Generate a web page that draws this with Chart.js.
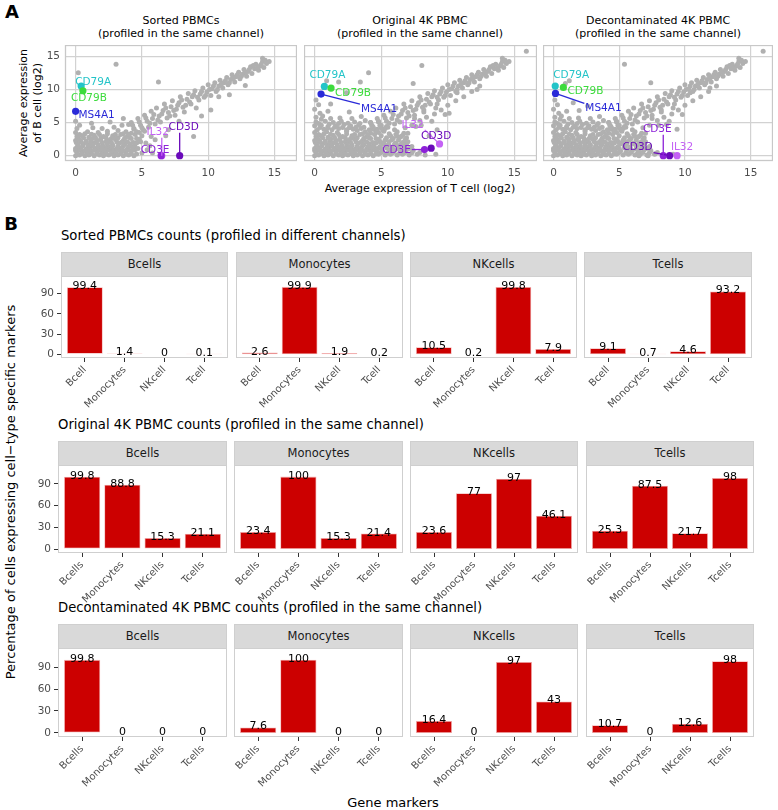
<!DOCTYPE html>
<html>
<head>
<meta charset="utf-8">
<script src="https://cdn.jsdelivr.net/npm/chart.js@4.4.1/dist/chart.umd.min.js"></script>
<style>
  body { margin: 0; background: #fff; font-family: "DejaVu Sans", sans-serif; }
  #fig { position: relative; width: 778px; height: 810px; overflow: hidden; }
  .txt { position: absolute; white-space: nowrap; color: #000; line-height: 1; }
  .strip { position: absolute; background: #d9d9d9; border: 1px solid #cfcfcf; box-sizing: border-box;
           text-align: center; font-size: 11.5px; color: #1a1a1a; }
  canvas { position: absolute; }
</style>
</head>
<body>
<div id="fig"></div>
<script>
/* ── Panel A data: grey gene clouds (log2 T cell, log2 B cell) ───────── */

// dense block near the origin, present in every panel
const coreBlock = [
  [0,0],[0.3,0.1],[0.7,0],[1.0,0.1],[1.4,0],[1.8,0.1],[2.1,0],[2.5,0.1],[2.9,0],[3.2,0.1],[3.6,0],[4.0,0.1],[4.4,0],
  [0.15,0.25],[0.5,0.3],[0.85,0.2],[1.2,0.3],[1.6,0.25],[1.95,0.3],[2.3,0.2],[2.7,0.3],[3.05,0.25],[3.4,0.3],[3.8,0.2],[4.2,0.3],[4.6,0.25],
  [0.1,0.5],[0.5,0.6],[0.9,0.4],[1.2,0.7],[1.6,0.5],[2.0,0.6],[2.3,0.4],[2.7,0.7],[3.0,0.5],[3.4,0.6],[3.8,0.5],[4.2,0.7],
  [0,0.8],[0.3,0.9],[0.7,0.8],[1.05,0.9],[1.4,0.85],[1.75,0.9],[2.1,0.8],[2.45,0.9],[2.85,0.85],[3.25,0.9],[3.6,0.8],[4.0,0.9],[4.45,0.85],
  [0,1.1],[0.4,1.2],[0.8,1.0],[1.1,1.3],[1.5,1.1],[1.9,1.2],[2.2,1.0],[2.6,1.3],[3.1,1.1],[3.5,1.2],[3.9,1.0],[4.3,1.3],[4.7,1.1],
  [0.15,1.4],[0.55,1.5],[0.95,1.4],[1.3,1.5],[1.7,1.45],[2.05,1.5],[2.4,1.4],[2.8,1.5],[3.2,1.45],[3.6,1.5],[4.0,1.4],[4.45,1.5],
  [0.2,1.7],[0.6,1.8],[1.0,1.6],[1.3,1.9],[1.7,1.7],[2.4,1.8],[2.8,1.6],[3.3,1.9],[3.7,1.7],[4.1,1.8],[4.6,1.9],[2.0,2.0],
  [0.05,2.0],[0.4,2.1],[0.8,2.0],[1.15,2.1],[1.5,2.0],[2.3,2.1],[2.7,2.0],[3.1,2.1],[3.5,2.05],[3.9,2.1],[4.35,2.0],[4.9,2.1],
  [0,2.3],[0.3,2.4],[0.8,2.2],[1.2,2.5],[1.6,2.3],[1.9,2.4],[2.5,2.3],[3.0,2.5],[3.6,2.3],[4.2,2.6],[4.8,2.5],
  [0.2,2.6],[0.6,2.7],[1.1,2.6],[1.5,2.7],[1.9,2.65],[2.3,2.7],[2.7,2.6],[3.2,2.7],[3.7,2.65],[4.1,2.7],[4.6,2.6],
  [0.1,2.9],[0.5,3.0],[1.0,2.8],[1.4,3.1],[2.1,2.9],[2.8,3.0],[3.4,3.2],[3.9,2.9],[4.5,3.2],[5.0,3.0],
  [0.3,3.2],[0.7,3.3],[1.2,3.25],[1.8,3.2],[2.4,3.3],[3.0,3.2],[3.6,3.3],[4.2,3.4],[4.8,3.5],
  [0,3.5],[0.9,3.6],[1.7,3.5],[2.4,3.7],[3.2,3.8],[3.8,3.6],[4.4,4.0],[5.2,3.7]
];

// diagonal band of genes expressed in both cell types
const diagBand = [
  [4.0,3.2],[4.2,5.0],[4.4,4.1],[4.6,3.6],[4.7,5.6],[4.9,4.6],[5.1,3.9],[5.2,6.1],[5.4,5.2],[5.5,4.3],
  [5.7,6.7],[5.8,5.6],[6.0,4.8],[6.1,7.2],[6.3,6.0],[6.4,5.1],[6.6,6.8],[6.7,7.8],[6.9,5.7],[7.0,6.5],
  [7.2,7.4],[7.3,8.3],[7.5,6.1],[7.6,7.0],[7.8,8.0],[7.9,8.9],[8.1,7.3],[8.2,6.6],[8.4,8.5],[8.5,9.4],
  [8.7,7.8],[8.8,8.9],[9.0,9.8],[9.1,7.2],[9.3,8.4],[9.4,9.3],[9.6,10.2],[9.7,8.8],[9.9,9.6],[10.0,10.7],
  [10.2,9.1],[10.3,10.1],[10.5,11.0],[10.6,9.7],[10.8,10.5],[10.9,11.4],[11.1,10.2],[11.2,11.0],[11.4,11.8],[11.5,10.7],
  [11.7,11.5],[11.8,12.2],[12.0,11.1],[12.1,11.9],[12.3,12.6],[12.4,11.6],[12.6,12.3],[12.7,13.0],[12.9,12.0],[13.0,12.7],
  [13.2,13.4],[13.3,12.4],[13.5,13.1],[13.6,13.8],[13.8,12.9],[13.9,13.5],[14.1,14.2],[14.2,13.3],[14.4,13.9],[14.1,14.7],
  [4.3,4.6],[4.8,5.1],[5.0,4.2],[5.3,5.7],[5.6,4.9],[5.9,6.2],[6.2,5.4],[6.5,6.3],[6.8,7.2],[7.1,6.0],
  [7.4,6.8],[7.7,7.6],[8.0,8.4],[8.3,7.6],[8.6,8.1],[8.9,9.2],[9.2,8.8],[9.5,9.7],[9.8,9.1],[10.1,10.0],
  [10.4,10.5],[10.7,10.0],[11.0,10.8],[11.3,11.3],[11.6,11.0],[11.9,11.7],[12.2,12.2],[12.5,12.0],[12.8,12.6],[13.1,13.0],
  [13.4,13.6],[13.7,13.2],[14.0,13.8],[14.3,14.4],[14.6,14.2]
];

const sortedExtra = [
  [0.2,12.5],[3.05,13.8],[6.25,11.1],[10.2,6.9],[10.8,8.9],[8.9,2.9],[0,5.2],[0.3,4.6],[1.2,4.9],[2.0,4.1],
  [2.9,4.3],[3.5,4.6],[4.0,4.7],[1.3,4.2],[5.6,1.5],[6.0,2.4],[5.4,0.9],[5.8,0.4],[7.0,3.9],[7.8,5.2],
  [9.5,6.0],[11.6,9.2],[12.8,10.6],[6.8,3.0],[3.6,5.6],[2.6,5.1],[5.0,0.4],[5.3,1.9],[5.7,2.9],[0.1,4.1]
];

// wider low-expression block seen in the 4K PBMC panels
const wideBlock = [
  [4.8,0.2],[5.3,0.1],[5.7,0.2],[6.2,0.1],[6.6,0.2],[7.1,0.1],[7.7,0.2],[8.3,0.1],[9.1,0.2],
  [5.0,0.5],[5.5,0.45],[5.9,0.5],[6.4,0.45],[6.8,0.5],[7.3,0.45],[7.9,0.5],
  [4.7,0.8],[5.1,0.7],[5.6,0.9],[6.0,0.8],[6.5,0.7],[6.9,0.9],[7.4,0.8],
  [5.0,1.1],[5.4,1.15],[5.85,1.1],[6.3,1.05],[6.7,1.15],[7.1,1.1],
  [4.9,1.4],[5.4,1.5],[5.8,1.3],[6.3,1.4],[6.8,1.5],[7.3,1.4],
  [5.1,1.75],[5.55,1.7],[6.0,1.75],[6.45,1.7],[6.9,1.8],
  [5.2,2.0],[5.6,2.1],[6.1,1.9],[6.6,2.0],[7.0,2.1],
  [5.3,2.35],[5.8,2.4],[6.3,2.35],[6.8,2.4],
  [5.4,2.7],[5.9,2.6],[6.4,2.8],[6.9,2.7],
  [5.7,3.0],[6.2,2.95],[6.6,3.05],
  [5.6,3.3],[6.1,3.2],[6.7,3.4],
  [0.2,3.9],[0.7,4.0],[1.3,3.9],[1.8,4.1],[2.4,3.9],[2.9,4.0],[3.5,4.1],[4.1,3.9],[4.7,4.0],[5.3,4.1],[6.0,3.9],
  [0.4,4.25],[1.0,4.2],[1.5,4.3],[2.1,4.25],[2.6,4.2],[3.1,4.3],[3.7,4.3],[4.4,4.3],[5.4,4.4],
  [0,4.5],[0.5,4.6],[1.0,4.4],[1.6,4.5],[2.2,4.7],[2.7,4.5],[3.3,4.6],[4.3,4.5],[5.0,4.6],
  [0.3,4.85],[1.1,4.8],[1.8,4.85],[2.5,4.9],[3.4,4.85],[4.2,5.0],[4.8,5.2],
  [0.1,5.1],[0.8,5.2],[1.4,5.0],[2.0,5.2],[3.0,5.1],[3.8,5.3],
  [0.5,5.5],[1.2,5.6],[1.9,5.7],[2.8,5.6],[3.5,5.9],
  [0.1,5.8],[0.4,6.4],[0,7.0],[0.3,7.7],[0.1,8.4],[0.6,6.0],[1.0,6.7]
];

const lowBand = [
  [6.2,3.6],[6.8,4.2],[7.3,4.6],[7.9,5.3],[8.4,5.8],[9.0,6.3],[9.5,6.9],[10.0,7.6],[10.6,8.3],[11.2,8.9],
  [11.8,9.7],[12.4,10.5],[7.0,3.4],[8.0,4.6],[8.8,5.2],[9.8,6.2],[6.5,2.9],[7.5,5.6],[8.2,6.9],[9.2,7.8]
];

const originalExtra = [
  [4.05,12.5],[8.05,13.6],[7.4,10.9],[10.7,9.5],[15.9,15.75],[3.43,11.1],[1.8,11.1],[2.4,9.5],[1.2,7.8],[2.6,6.6],
  [9.2,3.9],[8.6,3.0],[7.6,4.4],[10.1,6.4],[12.2,10.0],[0.9,11.3]
];

const decontExtra = [
  [5.4,13.8],[15.95,15.75],[7.4,11.0],[10.4,9.5],[1.95,6.8],[1.2,11.3],[0.9,10.9],[2.6,7.5],[8.6,4.7],[9.4,4.0],
  [6.5,0],[7.2,0],[7.7,0.3],[11.9,10.2],[1.5,8.0]
];

const sortedGrey = coreBlock.concat(diagBand, sortedExtra);
const originalGrey = coreBlock.concat(diagBand, wideBlock, lowBand, originalExtra);
const decontGrey = coreBlock.concat(diagBand, wideBlock, lowBand, decontExtra);

// highlighted marker genes
const geneNames = ["CD79A", "CD79B", "MS4A1", "IL32", "CD3D", "CD3E"];
const geneColors = ["#23c4c8", "#3cdb3c", "#2a2ad8", "#c462f5", "#6a0aba", "#8d22d8"];
const sortedGeneX = [0.42, 0.55, 0.0, 6.5, 7.85, 6.45];
const sortedGeneY = [10.5, 9.8, 6.7, 0.0, 0.0, 0.0];
const originalGeneX = [0.73, 1.23, 0.48, 9.38, 8.75, 8.25];
const originalGeneY = [10.45, 10.2, 9.3, 1.78, 1.13, 0.93];
const decontGeneX = [0.13, 0.75, 0.15, 9.4, 8.83, 8.35];
const decontGeneY = [10.5, 10.3, 9.4, 0.0, 0.0, 0.0];
const scatterTicks = [0, 5, 10, 15];

/* ── Panel B data: % cells expressing each marker set ─────────────────── */

const facetNames = ["Bcells", "Monocytes", "NKcells", "Tcells"];
const sortedMarkers = ["Bcell", "Monocytes", "NKcell", "Tcell"];
const pbmcMarkers = ["Bcells", "Monocytes", "NKcells", "Tcells"];
const sortedPct = [[99.4, 1.4, 0, 0.1], [2.6, 99.9, 1.9, 0.2], [10.5, 0.2, 99.8, 7.9], [9.1, 0.7, 4.6, 93.2]];
const originalPct = [[99.8, 88.8, 15.3, 21.1], [23.4, 100, 15.3, 21.4], [23.6, 77, 97, 46.1], [25.3, 87.5, 21.7, 98]];
const decontPct = [[99.8, 0, 0, 0], [7.6, 100, 0, 0], [16.4, 0, 97, 43], [10.7, 0, 12.6, 98]];
const pctTicks = [0, 30, 60, 90];

// ── Layout (pixels) ──────────────────────────────────────

const SC_TOP = 45, SC_BOTTOM = 161;
const SC_COLS = [[65, 297], [304, 537], [543, 773]];
const SC_LABEL_OFF = [
  [[12, -4], [6, 8], [21, 4], [-4, -23], [4, -28], [-6, -5]],
  [[3, -11], [22, 5], [58, 15], [-27, -19], [5, -12], [-28, 1]],
  [[16, -11], [22, 4], [48, 15], [5, -8], [-32, -8], [-6, -26]]
];
const BAR_STRIP_TOP = [252, 441, 624];
const BAR_PANEL_BOTTOM = [358, 553, 737];
const BAR_COLS = [
  [[61, 228], [236, 403], [410, 577], [584, 752]],
  [[58, 227], [234, 403], [410, 578], [586, 754]],
  [[58, 227], [234, 403], [410, 578], [586, 754]]
];
const STRIP_H = 24;

Chart.defaults.font.family = "'DejaVu Sans', sans-serif";
Chart.defaults.color = "#4d4d4d";

const fig = document.getElementById("fig");

function addText(str, x, y, size, opts = {}) {
  const d = document.createElement("div");
  d.className = "txt";
  d.textContent = str;
  d.style.left = x + "px";
  d.style.top = y + "px";
  d.style.fontSize = size + "px";
  let tf = opts.left ? "translate(0,-50%)" : "translate(-50%,-50%)";
  if (opts.rotate) tf += ` rotate(${opts.rotate}deg)`;
  d.style.transform = tf;
  if (opts.bold) d.style.fontWeight = "bold";
  fig.appendChild(d);
}

function makeCanvas(x, y, w, h) {
  const c = document.createElement("canvas");
  c.width = w; c.height = h;
  c.style.left = x + "px"; c.style.top = y + "px";
  c.style.width = w + "px"; c.style.height = h + "px";
  fig.appendChild(c);
  return c;
}

function noPad(s) {
  s.paddingLeft = 0; s.paddingRight = 0; s.paddingTop = 0; s.paddingBottom = 0;
}

// ── Plugins ──────────────────────────────────────────────

const panelBorder = {
  id: "panelBorder",
  afterDraw(chart, args, opts) {
    const a = chart.chartArea, ctx = chart.ctx;
    ctx.save();
    ctx.strokeStyle = opts.color || "#cccccc";
    ctx.lineWidth = opts.width || 1;
    ctx.strokeRect(a.left + 0.5, a.top + 0.5, a.right - a.left - 1, a.bottom - a.top - 1);
    ctx.restore();
  }
};

const geneLabels = {
  id: "geneLabels",
  afterDatasetsDraw(chart, args, opts) {
    const ctx = chart.ctx;
    const meta = chart.getDatasetMeta(0);
    ctx.save();
    ctx.font = "10.5px 'DejaVu Sans'";
    ctx.textAlign = "center";
    ctx.textBaseline = "middle";
    meta.data.forEach((pt, i) => {
      const [dx, dy] = opts.offsets[i];
      const cx = pt.x + dx, cy = pt.y + dy;
      const hw = ctx.measureText(geneNames[i]).width / 2 + 1, hh = 5;
      // nearest point of the label box to the gene point
      const nx = Math.max(cx - hw, Math.min(pt.x, cx + hw));
      const ny = Math.max(cy - hh, Math.min(pt.y, cy + hh));
      if (Math.hypot(nx - pt.x, ny - pt.y) > 8) {
        ctx.strokeStyle = geneColors[i];
        ctx.lineWidth = 1.3;
        ctx.beginPath();
        ctx.moveTo(pt.x, pt.y);
        ctx.lineTo(nx, ny);
        ctx.stroke();
      }
      ctx.fillStyle = geneColors[i];
      ctx.fillText(geneNames[i], cx, cy);
    });
    ctx.restore();
  }
};

const barValues = {
  id: "barValues",
  afterDatasetsDraw(chart) {
    const ctx = chart.ctx;
    const meta = chart.getDatasetMeta(0);
    const data = chart.data.datasets[0].data;
    ctx.save();
    ctx.font = "11px 'DejaVu Sans'";
    ctx.fillStyle = "#000";
    ctx.textAlign = "center";
    ctx.textBaseline = "alphabetic";
    meta.data.forEach((bar, i) => ctx.fillText(String(data[i].y), bar.x, bar.y + 2));
    ctx.restore();
  }
};

// ── Scatter panels (A) ───────────────────────────────────

function drawScatter(col, grey, gx, gy) {
  const [x0, x1] = SC_COLS[col];
  const showY = col === 0;
  const leftW = showY ? 24 : 0, bottomH = 18;
  const canvas = makeCanvas(x0 - leftW, SC_TOP, x1 - x0 + leftW, SC_BOTTOM - SC_TOP + bottomH);
  const tickSetup = (s) => { s.ticks = scatterTicks.map((v) => ({ value: v })); };

  new Chart(canvas.getContext("2d"), {
    type: "scatter",
    data: {
      datasets: [
        {
          data: geneNames.map((g, i) => ({ x: gx[i], y: gy[i] })),
          backgroundColor: geneColors,
          pointRadius: 3.6,
          borderWidth: 0,
        },
        {
          data: grey.map((p) => ({ x: p[0], y: p[1] })),
          backgroundColor: "#b0b0b0",
          pointRadius: 2.5,
          borderWidth: 0,
        },
      ],
    },
    options: {
      responsive: false,
      animation: false,
      events: [],
      layout: { padding: 0, autoPadding: false },
      plugins: {
        legend: { display: false },
        tooltip: { enabled: false },
        panelBorder: { color: "#c8c8c8", width: 1.3 },
        geneLabels: { offsets: SC_LABEL_OFF[col] },
      },
      scales: {
        x: {
          type: "linear", min: -0.8, max: 16.7,
          afterBuildTicks: tickSetup,
          afterFit: (s) => { s.height = bottomH; noPad(s); },
          grid: { color: "#d2d2d2", lineWidth: 1.2, drawTicks: false },
          border: { display: false },
          ticks: { padding: 6, maxRotation: 0, font: { size: 10.5 }, color: "#4d4d4d" },
        },
        y: {
          type: "linear", min: -0.8, max: 16.7,
          afterBuildTicks: tickSetup,
          afterFit: (s) => { s.width = leftW; noPad(s); },
          grid: { color: "#d2d2d2", lineWidth: 1.2, drawTicks: false },
          border: { display: false },
          ticks: { display: showY, padding: 5, font: { size: 10.5 }, color: "#4d4d4d" },
        },
      },
    },
    plugins: [panelBorder, geneLabels],
  });
}

// ── Bar facets (B) ───────────────────────────────────────

function drawBars(row, col, values, labels) {
  const [x0, x1] = BAR_COLS[row][col];
  const stripTop = BAR_STRIP_TOP[row];
  const top = stripTop + STRIP_H, bottom = BAR_PANEL_BOTTOM[row];
  const showY = col === 0;
  const leftW = showY ? 40 : 0, bottomH = 62;

  const strip = document.createElement("div");
  strip.className = "strip";
  strip.style.left = x0 + "px";
  strip.style.top = stripTop + "px";
  strip.style.width = (x1 - x0) + "px";
  strip.style.height = (STRIP_H + 1) + "px";
  strip.style.lineHeight = (STRIP_H - 1) + "px";
  strip.textContent = facetNames[col];
  fig.appendChild(strip);

  const canvas = makeCanvas(x0 - leftW, top, x1 - x0 + leftW, bottom - top + bottomH);
  new Chart(canvas.getContext("2d"), {
    type: "bar",
    data: {
      datasets: [{
        data: values.map((v, i) => ({ x: i + 1, y: v })),
        backgroundColor: "#cc0000",
        borderColor: "#f2b0b0",
        borderWidth: (c) => (c.raw && c.raw.y > 0 ? 0.8 : 0),
        borderSkipped: false,
        barPercentage: 0.9,
        categoryPercentage: 1,
      }],
    },
    options: {
      responsive: false,
      animation: false,
      events: [],
      layout: { padding: 0, autoPadding: false },
      plugins: {
        legend: { display: false },
        tooltip: { enabled: false },
        panelBorder: { color: "#cfcfcf", width: 1 },
      },
      scales: {
        x: {
          type: "linear", min: 0.4, max: 4.6, offset: false,
          afterBuildTicks: (s) => { s.ticks = [1, 2, 3, 4].map((v) => ({ value: v })); },
          afterFit: (s) => { s.height = bottomH; noPad(s); },
          grid: { display: true, drawOnChartArea: false, drawTicks: true, tickLength: 4, color: "#333333", offset: false },
          border: { display: false },
          ticks: {
            autoSkip: false, minRotation: 45, maxRotation: 45, padding: 2,
            font: { size: 10 }, color: "#4d4d4d",
            callback: (v) => labels[v - 1],
          },
        },
        y: {
          display: showY,
          min: -5.5, max: 116,
          afterBuildTicks: (s) => { s.ticks = pctTicks.map((v) => ({ value: v })); },
          afterFit: (s) => { s.width = leftW; noPad(s); },
          grid: { drawOnChartArea: false, drawTicks: true, tickLength: 4, color: "#333333" },
          border: { display: false },
          ticks: { padding: 3, font: { size: 10.5 }, color: "#4d4d4d" },
        },
      },
    },
    plugins: [panelBorder, barValues],
  });
}

// ── Texts ────────────────────────────────────────────────

addText("A", 12, 12, 18, { bold: true });
addText("Sorted PBMCs", 181, 20, 11);
addText("(profiled in the same channel)", 181, 33, 11);
addText("Original 4K PBMC", 420, 20, 11);
addText("(profiled in the same channel)", 420, 33, 11);
addText("Decontaminated 4K PBMC", 658, 20, 11);
addText("(profiled in the same channel)", 658, 33, 11);
addText("Average expression", 23, 103, 11, { rotate: -90 });
addText("of B cell (log2)", 37, 103, 11, { rotate: -90 });
addText("Average expression of T cell (log2)", 420, 188, 11);

addText("B", 11, 224, 18, { bold: true });
addText("Sorted PBMCs counts (profiled in different channels)", 61, 236, 13.2, { left: true });
addText("Original 4K PBMC counts (profiled in the same channel)", 58, 425, 13.2, { left: true });
addText("Decontaminated 4K PBMC counts (profiled in the same channel)", 58, 608, 13.2, { left: true });
addText("Percentage of cells expressing cell\u2212type specific markers", 10, 492, 13, { rotate: -90 });
addText("Gene markers", 393, 802, 13);

// ── Draw ─────────────────────────────────────────────────

drawScatter(0, sortedGrey, sortedGeneX, sortedGeneY);
drawScatter(1, originalGrey, originalGeneX, originalGeneY);
drawScatter(2, decontGrey, decontGeneX, decontGeneY);

[sortedPct, originalPct, decontPct].forEach((rowVals, row) => {
  const labels = row === 0 ? sortedMarkers : pbmcMarkers;
  rowVals.forEach((vals, col) => drawBars(row, col, vals, labels));
});
</script>
</body>
</html>
